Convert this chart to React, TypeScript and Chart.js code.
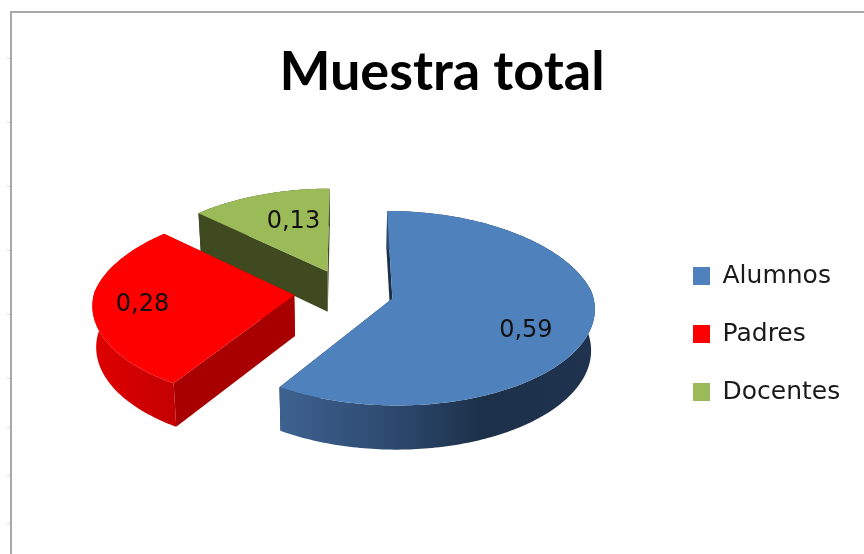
import React, { useEffect, useRef } from "react";
import { Chart, registerables } from "chart.js";

Chart.register(...registerables);

const categories = ["Alumnos", "Padres", "Docentes"];
const shares = [0.59, 0.28, 0.13];
const shareLabels = ["0,59", "0,28", "0,13"];
const topColors = ["#4f81bd", "#ff0000", "#9bbb59"];
const radialWallColors = ["#1c3048", "#a80000", "#3f4a20"];
const arcWallStops: [number, string][][] = [
  [[0, "#3e6290"], [0.4, "#2b466b"], [0.65, "#1c3048"], [1, "#1f3350"]],
  [[0, "#e00000"], [1, "#c40000"]],
  [[0, "#3f4a20"], [1, "#3f4a20"]],
];
const explodes = [0.24, 0.26, 0.24];
const labelNudges = [[3, 14], [-19, 2], [12, 2]];
const leftTicks = [58, 122, 186, 250, 314, 378, 427, 475, 523];

// Perspective view of the pie disc
const X0 = 346, Y0 = 292, A = 200, B = 95, K = 0.1, KX_BACK = 0.13, KX_FRONT = 0.09, SHRINK = 0.985;
const project = (u: number, v: number): [number, number] => {
  const wx = 1 - (v < 0 ? KX_BACK : KX_FRONT) * v;
  const wy = 1 - K * v;
  return [X0 + (A * u) / wx, Y0 + (B * v) / wy];
};
const lower = ([x, y]: [number, number]): [number, number] => [
  X0 + (x - X0) * SHRINK,
  y + 41 + (y - 300) * 0.03,
];

const pie3d = {
  id: "pie3d",
  beforeDraw(chart: any) {
    const { ctx, width, height } = chart;
    ctx.save();
    ctx.fillStyle = "#ffffff";
    ctx.fillRect(0, 0, width, height);
    ctx.strokeStyle = "#a8a8a8";
    ctx.lineWidth = 2;
    ctx.beginPath();
    ctx.moveTo(11, height);
    ctx.lineTo(11, 12);
    ctx.lineTo(width, 12);
    ctx.stroke();
    ctx.strokeStyle = "#dddddd";
    ctx.lineWidth = 1;
    leftTicks.forEach((y) => {
      ctx.beginPath();
      ctx.moveTo(7, y + 0.5);
      ctx.lineTo(10, y + 0.5);
      ctx.stroke();
    });
    ctx.restore();
  },
  afterLayout(chart: any) {
    const t = chart.titleBlock;
    if (t) {
      t.left += 10;
      t.right += 10;
    }
    const l = chart.legend;
    if (l) {
      const w = l.right - l.left;
      const h = l.bottom - l.top;
      l.left = 660;
      l.right = 660 + w;
      l.top = 230.5;
      l.bottom = 230.5 + h;
    }
  },
  beforeDatasetsDraw(chart: any) {
    const { ctx } = chart;
    const arcs = chart.getDatasetMeta(0).data;
    const geom = arcs.map((el: any, i: number) => {
      const mid = (el.startAngle + el.endAngle) / 2;
      const ou = explodes[i] * Math.cos(mid);
      const ov = explodes[i] * Math.sin(mid);
      const n = Math.ceil(((el.endAngle - el.startAngle) * 180) / Math.PI);
      const rim: [number, number][] = [];
      for (let s = 0; s <= n; s++) {
        const a = el.startAngle + ((el.endAngle - el.startAngle) * s) / n;
        rim.push(project(ou + Math.cos(a), ov + Math.sin(a)));
      }
      const apex = project(ou, ov);
      const lab = project(ou + 0.66 * Math.cos(mid), ov + 0.66 * Math.sin(mid));
      return { i, rim, apex, lab };
    });
    const poly = (pts: [number, number][], fill: any) => {
      ctx.beginPath();
      pts.forEach((p, j) => (j ? ctx.lineTo(p[0], p[1]) : ctx.moveTo(p[0], p[1])));
      ctx.closePath();
      ctx.fillStyle = fill;
      ctx.fill();
    };
    ctx.save();
    // far slices first
    [2, 1, 0].forEach((idx) => {
      const { i, rim, apex } = geom[idx];
      const first = rim[0];
      const last = rim[rim.length - 1];
      poly([apex, first, lower(first), lower(apex)], radialWallColors[i]);
      poly([apex, last, lower(last), lower(apex)], radialWallColors[i]);
      const xs = rim.map((p: number[]) => p[0]);
      const g = ctx.createLinearGradient(Math.min(...xs), 0, Math.max(...xs), 0);
      arcWallStops[i].forEach(([o, c]) => g.addColorStop(o, c));
      poly([...rim, ...rim.slice().reverse().map(lower)], g);
      poly([apex, ...rim], topColors[i]);
    });
    ctx.fillStyle = "#111111";
    ctx.font = "24px 'DejaVu Sans'";
    ctx.textAlign = "center";
    ctx.textBaseline = "middle";
    geom.forEach(({ i, lab }: any) => {
      ctx.fillText(shareLabels[i], lab[0] + labelNudges[i][0], lab[1] + labelNudges[i][1]);
    });
    ctx.restore();
    return false;
  },
};

export default function App() {
  const ref = useRef<HTMLCanvasElement>(null);
  useEffect(() => {
    const chart = new Chart(ref.current as HTMLCanvasElement, {
      type: "pie",
      data: {
        labels: categories,
        datasets: [{ data: shares, backgroundColor: topColors, borderWidth: 0 }],
      },
      plugins: [pie3d],
      options: {
        animation: false,
        responsive: false,
        plugins: {
          tooltip: { enabled: false },
          title: {
            display: true,
            text: "Muestra total",
            color: "#000000",
            font: { family: "Lato", weight: "bold", size: 54 },
            padding: { top: 40, bottom: 10 },
          },
          legend: {
            position: "right",
            align: "start",
            labels: {
              boxWidth: 17,
              boxHeight: 18,
              padding: 33,
              color: "#1a1a1a",
              font: { family: "DejaVu Sans", size: 25 },
            },
          },
        },
      },
    } as any);
    return () => chart.destroy();
  }, []);
  return (
    <div style={{ position: "fixed", left: 0, top: 0, width: 864, height: 554, background: "#fff" }}>
      <canvas ref={ref} width={864} height={554} style={{ display: "block", filter: "blur(0.5px)" }} />
    </div>
  );
}
